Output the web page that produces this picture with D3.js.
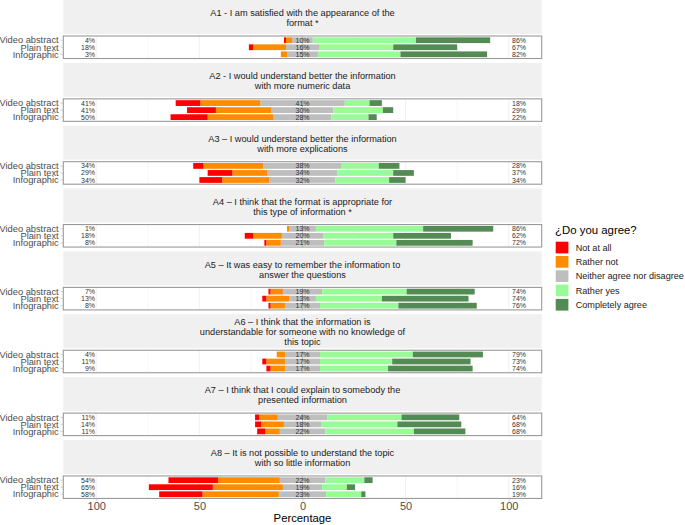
<!DOCTYPE html>
<html lang="en">
<head>
<meta charset="UTF-8">
<title>Likert chart</title>
<style>
    body { margin: 0; background: #fff; }
    svg { display: block; font-family: "Liberation Sans", Arial, sans-serif; }
</style>
</head>
<body>
<script src="https://cdn.jsdelivr.net/npm/d3@7/dist/d3.min.js"></script>
<script>
// question titles (one array of lines per facet)
var items = [
    ["A1 - I am satisfied with the appearance of the", "format *"],
    ["A2 - I would understand better the information", "with more numeric data"],
    ["A3 \u2013 I would understand better the information", "with more explications"],
    ["A4 \u2013 I think that the format is appropriate for", "this type of information *"],
    ["A5 \u2013 It was easy to remember the information to", "answer the questions"],
    ["A6 \u2013 I think that the information is", "understandable for someone with no knowledge of", "this topic"],
    ["A7 \u2013 I think that I could explain to somebody the", "presented information"],
    ["A8 \u2013 It is not possible to understand the topic", "with so little information"]
];
var groups = ["Video abstract", "Plain text", "Infographic"];
var levels = ["Not at all", "Rather not", "Neither agree nor disagree", "Rather yes", "Completely agree"];
var colors = ["#FF0000", "#FF8C00", "#BEBEBE", "#98FB98", "#548B54"];

// percentages, 3 values per item (Video abstract, Plain text, Infographic)
var notAtAll   = [1, 2, 0,   12, 14, 18,   5, 12, 11,   0, 4, 1,    1, 2, 1,    0, 2, 2,    2, 3, 4,    24, 31, 21];
var ratherNot  = [3, 16, 3,  29, 27, 32,   29, 17, 23,  1, 14, 7,   6, 11, 7,   4, 9, 7,    9, 11, 7,   30, 34, 37];
var neither    = [10, 16, 15, 41, 30, 28,  38, 34, 32,  13, 20, 21, 19, 13, 17, 17, 17, 17, 24, 18, 22, 22, 19, 23];
var ratherYes  = [50, 36, 40, 12, 24, 18,  18, 27, 26,  52, 34, 35, 41, 32, 38, 45, 35, 33, 36, 37, 43, 19, 12, 17];
var completely = [36, 31, 42, 6, 5, 4,     10, 10, 8,   34, 28, 37, 33, 42, 38, 34, 38, 41, 28, 31, 25, 4, 4, 2];

var ticks = [-100, -50, 0, 50, 100];

var w = 685, h = 525;
var panelLeft = 63.3, panelRight = 541.7;
var firstTop = 36, facetStep = 62.85, panelH = 22.5, stripH = 34;

var svg = d3.select("body").append("svg")
    .attr("width", w)
    .attr("height", h);

var x = d3.scaleLinear().domain([-116, 116]).range([panelLeft, panelRight]);

items.forEach(function (lines, i) {
    var top = firstTop + i * facetStep;
    var g = svg.append("g");

    // strip
    g.append("rect")
        .attr("x", panelLeft).attr("y", top - 36)
        .attr("width", panelRight - panelLeft).attr("height", stripH)
        .attr("fill", "#F0F0F0");
    var mid = top - 36 + 18;
    g.selectAll("text.strip").data(lines).enter().append("text")
        .attr("class", "strip")
        .attr("x", (panelLeft + panelRight) / 2)
        .attr("y", function (d, k) { return mid + (k - (lines.length - 1) / 2) * 10; })
        .attr("dy", "0.35em")
        .attr("text-anchor", "middle")
        .attr("font-size", "9.2px")
        .attr("fill", "#1A1A1A")
        .text(function (d) { return d; });

    // panel background + grid
    g.append("rect")
        .attr("x", panelLeft).attr("y", top)
        .attr("width", panelRight - panelLeft).attr("height", panelH)
        .attr("fill", "#fff");
    g.selectAll("line.grid").data(d3.range(-100, 101, 25)).enter().append("line")
        .attr("x1", function (d) { return x(d); }).attr("x2", function (d) { return x(d); })
        .attr("y1", top).attr("y2", top + panelH)
        .attr("stroke", "#EBEBEB")
        .attr("stroke-width", function (d) { return d % 50 === 0 ? 0.7 : 0.45; });

    var y = d3.scalePoint().domain(groups).range([top, top + panelH]).padding(0.6);
    var bh = y.step() * 0.82;

    // build stacked segments for each group
    var segs = [];
    var rows = groups.map(function (grp, j) {
        var idx = i * 3 + j;
        var v = [notAtAll[idx], ratherNot[idx], neither[idx], ratherYes[idx], completely[idx]];
        var half = v[2] / 2;
        var left = -half;
        segs.push({ g: grp, x0: -half, x1: 0, c: 2 });
        segs.push({ g: grp, x0: left - v[1], x1: left, c: 1 });
        segs.push({ g: grp, x0: left - v[1] - v[0], x1: left - v[1], c: 0 });
        segs.push({ g: grp, x0: 0, x1: half, c: 2 });
        segs.push({ g: grp, x0: half, x1: half + v[3], c: 3 });
        segs.push({ g: grp, x0: half + v[3], x1: half + v[3] + v[4], c: 4 });
        return { g: grp, low: v[0] + v[1], neu: v[2], high: v[3] + v[4] };
    });

    g.selectAll("rect.seg").data(segs.filter(function (d) { return d.x1 > d.x0; }))
        .enter().append("rect")
        .attr("class", "seg")
        .attr("x", function (d) { return x(d.x0); })
        .attr("width", function (d) { return x(d.x1) - x(d.x0); })
        .attr("y", function (d) { return y(d.g) - bh / 2; })
        .attr("height", bh)
        .attr("fill", function (d) { return colors[d.c]; });

    g.append("line")
        .attr("x1", x(0)).attr("x2", x(0))
        .attr("y1", top).attr("y2", top + panelH)
        .attr("stroke", "#9a9a9a").attr("stroke-width", 0.5);

    // percent labels
    var lab = function (cls, xv, anchor, key) {
        g.selectAll("text." + cls).data(rows).enter().append("text")
            .attr("class", cls)
            .attr("x", x(xv))
            .attr("y", function (d) { return y(d.g); })
            .attr("dy", "0.36em")
            .attr("text-anchor", anchor)
            .attr("font-size", "7px")
            .attr("fill", "#333")
            .text(function (d) { return Math.round(d[key]) + "%"; });
    };
    lab("low", -100.6, "end", "low");
    lab("neu", 0, "middle", "neu");
    lab("high", 101.6, "start", "high");

    // border
    g.append("rect")
        .attr("x", panelLeft).attr("y", top)
        .attr("width", panelRight - panelLeft).attr("height", panelH)
        .attr("fill", "none")
        .attr("stroke", "#999").attr("stroke-width", 1.1);

    // y axis labels
    g.selectAll("text.ylab").data(groups).enter().append("text")
        .attr("class", "ylab")
        .attr("x", panelLeft - 4.6)
        .attr("y", function (d) { return y(d); })
        .attr("dy", "0.35em")
        .attr("text-anchor", "end")
        .attr("font-size", "9.3px")
        .attr("fill", "#4D4D4D")
        .text(function (d) { return d; });
    g.selectAll("line.ytick").data(groups).enter().append("line")
        .attr("x1", panelLeft - 2.9).attr("x2", panelLeft)
        .attr("y1", function (d) { return y(d); }).attr("y2", function (d) { return y(d); })
        .attr("stroke", "#B3B3B3").attr("stroke-width", 0.6);
});

// x axis
var bottom = firstTop + 7 * facetStep + panelH;
var xAxis = svg.append("g")
    .attr("transform", "translate(0," + bottom + ")")
    .call(d3.axisBottom(x).tickValues(ticks).tickSize(2.9).tickPadding(0.6)
        .tickFormat(function (d) { return Math.abs(d); }));
xAxis.select(".domain").remove();
xAxis.selectAll(".tick line").attr("stroke", "#B3B3B3").attr("stroke-width", 0.6);
xAxis.selectAll(".tick text")
    .attr("font-size", "11px")
    .attr("font-family", "Liberation Sans, Arial, sans-serif")
    .attr("fill", "#4D4D4D");

svg.append("text")
    .attr("x", (panelLeft + panelRight) / 2)
    .attr("y", 522.4)
    .attr("text-anchor", "middle")
    .attr("font-size", "11.3px")
    .attr("fill", "#000")
    .text("Percentage");

// legend
var legend = svg.append("g");
legend.append("text")
    .attr("x", 555).attr("y", 234)
    .attr("font-size", "11.4px")
    .attr("fill", "#000")
    .text("\u00BFDo you agree?");
legend.selectAll("rect").data(levels).enter().append("rect")
    .attr("x", 555.7)
    .attr("y", function (d, k) { return 241.7 + k * 14.3; })
    .attr("width", 12.7).attr("height", 11.7)
    .attr("fill", function (d, k) { return colors[k]; });
legend.selectAll("text.lg").data(levels).enter().append("text")
    .attr("class", "lg")
    .attr("x", 575.7)
    .attr("y", function (d, k) { return 247.5 + k * 14.3; })
    .attr("dy", "0.35em")
    .attr("font-size", "9.1px")
    .attr("fill", "#1A1A1A")
    .text(function (d) { return d; });
</script>
</body>
</html>
